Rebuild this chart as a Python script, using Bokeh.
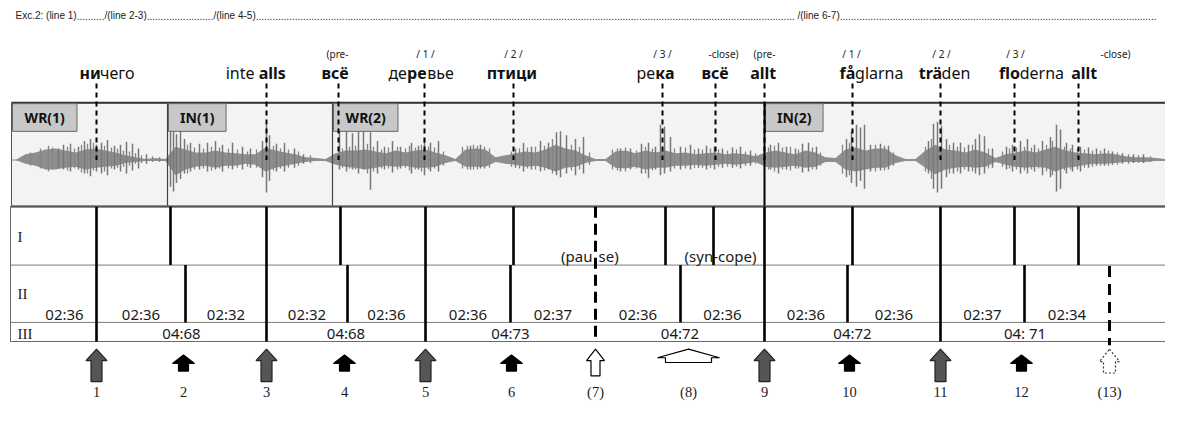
from bokeh.plotting import figure
from bokeh.models import ColumnDataSource, Range1d
from bokeh.core.properties import value
from bokeh.embed import file_html
from bokeh.resources import INLINE

SANS = "Noto Sans"
SERIF = "Liberation Serif"
TITLE_FONT = "Liberation Sans"

# ---------------- data ----------------
title_parts = ["Exc.2: (line 1)", "/(line 2-3)", "/(line 4-5)", "/(line 6-7)"]
title_x = [15, 104, 213, 797]
title_end = 1158

wave_seg_start = [11, 167, 332, 764]
wave_seg_label = ["WR(1)", "IN(1)", "WR(2)", "IN(2)"]

# waveform envelope (time position, amplitude above / below the centre line)
wave_x = [15, 25, 35, 45, 55, 65, 75, 85, 95, 105, 115, 125, 135, 145, 155, 165,
          175, 185, 195, 205, 215, 225, 235, 245, 255, 265, 275, 285, 295, 305, 315, 325,
          335, 345, 355, 365, 375, 385, 395, 405, 415, 425, 435, 445, 455, 465, 475, 485,
          495, 505, 515, 525, 535, 545, 555, 565, 575, 585, 595, 605, 615, 625, 635, 645,
          655, 665, 675, 685, 695, 705, 715, 725, 735, 745, 755,
          765, 775, 785, 795, 805, 815, 825, 835, 845, 855, 865, 875, 885, 895, 905, 915,
          925, 935, 945, 955, 965, 975, 985, 995, 1005, 1015, 1025, 1035, 1045, 1055, 1065,
          1075, 1085, 1095, 1105, 1115, 1125, 1135, 1145, 1155, 1165]
wave_up = [0, 6, 8, 11, 12, 10, 8, 11, 12, 10, 8, 5, 3, 1, 2, 1,
           14, 11, 8, 8, 10, 8, 7, 6, 6, 13, 10, 8, 6, 3, 2, 1,
           7, 10, 10, 11, 9, 7, 10, 8, 10, 11, 8, 5, 1, 11, 12, 11,
           3, 5, 7, 9, 8, 11, 16, 12, 10, 5, 1, 1, 9, 10, 7, 10,
           8, 10, 7, 8, 6, 7, 8, 6, 7, 6, 4,
           8, 10, 8, 6, 10, 8, 3, 2, 11, 13, 10, 12, 12, 5, 1, 1,
           10, 16, 11, 10, 8, 11, 8, 2, 6, 8, 10, 8, 11, 14, 10,
           8, 7, 6, 7, 6, 4, 3, 3, 2, 1]
wave_down = [0, 4, 6, 10, 10, 8, 7, 10, 8, 7, 6, 3, 2, 1, 1, 1,
             16, 10, 7, 6, 8, 6, 6, 4, 5, 12, 8, 6, 4, 2, 1, 1,
             5, 7, 8, 10, 8, 6, 7, 6, 8, 8, 7, 3, 1, 7, 7, 7,
             2, 4, 5, 7, 6, 8, 12, 8, 7, 3, 1, 1, 8, 9, 7, 10,
             8, 8, 6, 6, 5, 6, 5, 4, 5, 4, 2,
             7, 8, 7, 6, 8, 7, 2, 2, 10, 12, 10, 8, 8, 3, 1, 1,
             8, 15, 10, 8, 7, 8, 7, 2, 5, 7, 8, 7, 8, 12, 8,
             7, 5, 4, 4, 3, 2, 2, 2, 1, 1]

spike_x = [58, 63, 70, 78, 84, 90, 96, 101, 107, 114, 120, 126, 132, 138, 146,
           170, 173, 176, 180, 184, 190, 199, 207, 215, 222, 232, 242, 250, 262, 266, 269, 276, 284, 294, 303,
           339, 346, 352, 358, 363, 370, 377, 384, 392, 400, 411, 418, 424, 430, 438, 470, 480,
           515, 523, 531, 540, 548, 556, 560, 566, 575, 583,
           620, 630, 641, 648, 655, 660, 664, 670, 680, 690, 698, 706, 714, 722, 732, 740, 750,
           770, 778, 786, 795, 802, 808, 816, 846, 851, 856, 860, 864, 870, 880, 888,
           928, 933, 937, 941, 946, 953, 960, 968, 975, 979, 984, 992,
           1006, 1012, 1020, 1027, 1034, 1042, 1050, 1056, 1060, 1066, 1072, 1080, 1088, 1096,
           1104, 1112, 1122, 1133, 1143]
spike_up = [12, 16, 17, 14, 20, 22, 16, 18, 21, 15, 16, 19, 17, 12, 6,
            30, 32, 27, 31, 22, 18, 17, 18, 20, 16, 18, 14, 12, 20, 37, 26, 17, 18, 12, 6,
            30, 30, 28, 30, 30, 29, 20, 14, 20, 14, 18, 15, 22, 18, 20, 15, 16,
            12, 18, 14, 20, 18, 29, 30, 26, 22, 24,
            12, 12, 17, 18, 14, 37, 35, 24, 14, 16, 12, 15, 14, 12, 13, 14, 10,
            16, 18, 14, 12, 17, 18, 14, 22, 30, 37, 34, 37, 16, 17, 15,
            20, 38, 40, 36, 22, 18, 18, 16, 22, 27, 25, 12,
            14, 16, 20, 22, 16, 20, 24, 37, 32, 18, 16, 14, 13, 12,
            12, 9, 7, 6, 6]
spike_down = [8, 10, 12, 10, 14, 17, 12, 14, 16, 10, 12, 14, 11, 9, 4,
              28, 33, 24, 20, 14, 12, 10, 12, 10, 12, 10, 10, 8, 18, 34, 22, 12, 12, 8, 4,
              10, 12, 10, 14, 10, 31, 14, 10, 13, 9, 14, 10, 16, 12, 12, 10, 9,
              8, 12, 10, 12, 10, 16, 18, 14, 16, 14,
              12, 10, 14, 19, 10, 16, 14, 12, 10, 10, 8, 10, 10, 8, 8, 9, 6,
              10, 14, 10, 9, 13, 12, 10, 18, 24, 28, 22, 30, 12, 11, 10,
              14, 30, 34, 30, 18, 14, 14, 12, 14, 16, 14, 8,
              10, 12, 14, 14, 12, 16, 18, 33, 30, 14, 12, 12, 8, 6,
              6, 5, 4, 3, 3]

# finer, lower peaks of the waveform
fine_x = [30, 40, 48, 52, 67, 74, 81, 87, 93, 104, 111, 117, 123, 129, 135, 141, 152, 159,
          187, 194, 203, 211, 219, 228, 237, 247, 256, 273, 280, 288, 298, 310,
          342, 349, 355, 367, 373, 381, 388, 397, 405, 409, 415, 421, 428, 434, 443, 462, 467,
          473, 477, 484, 489, 511, 519, 527, 535, 544, 552, 571, 579, 589, 612, 617, 625, 636,
          645, 652, 674, 685, 694, 702, 710, 718, 727, 736, 745, 755,
          768, 774, 782, 790, 798, 812, 820, 842, 849, 875, 884, 893, 925, 931, 949, 957, 964,
          972, 988, 1002, 1009, 1016, 1024, 1031, 1038, 1046, 1052, 1064, 1070, 1077, 1084,
          1092, 1100, 1108, 1117, 1128, 1138, 1150]
fine_up = [8, 12, 15, 13, 14, 12, 16, 17, 18, 15, 13, 12, 10, 9, 7, 5, 4, 3,
           16, 13, 12, 14, 13, 12, 11, 9, 11, 15, 12, 11, 9, 5,
           12, 14, 15, 17, 14, 11, 13, 14, 12, 15, 13, 16, 14, 13, 9, 14, 15,
           16, 15, 14, 12, 9, 12, 13, 14, 15, 22, 16, 14, 8, 11, 12, 13, 10,
           14, 12, 12, 13, 11, 11, 12, 11, 10, 11, 9, 7,
           13, 15, 13, 14, 11, 13, 8, 16, 18, 16, 15, 8, 14, 22, 16, 14, 13,
           16, 12, 9, 12, 13, 14, 13, 12, 16, 20, 14, 12, 12, 11,
           10, 10, 10, 8, 6, 5, 4]
fine_down = [6, 9, 12, 10, 11, 9, 13, 14, 11, 12, 9, 8, 7, 6, 4, 3, 2, 2,
             14, 10, 9, 11, 9, 9, 8, 7, 8, 11, 9, 8, 6, 3,
             8, 9, 10, 14, 12, 9, 9, 10, 8, 11, 10, 12, 10, 9, 6, 9, 10,
             10, 10, 9, 8, 7, 9, 9, 10, 11, 14, 11, 10, 5, 10, 11, 12, 9,
             14, 11, 9, 9, 8, 8, 8, 7, 7, 7, 6, 4,
             10, 12, 10, 11, 9, 10, 6, 14, 16, 12, 11, 6, 12, 20, 14, 12, 10,
             12, 9, 7, 9, 10, 11, 10, 9, 12, 16, 11, 10, 10, 8,
             7, 6, 6, 5, 4, 3, 2]

# words above the waveform: parts as (text, stressed)
word_parts = [
    [("ни", True), ("чего", False)],
    [("inte", False), (" ", False), ("alls", True)],
    [("всё", True)],
    [("де", False), ("ре", True), ("вье", False)],
    [("птици", True)],
    [("ре", False), ("ка", True)],
    [("всё", True)],
    [("allt", True)],
    [("få", True), ("glarna", False)],
    [("trä", True), ("den", False)],
    [("flo", True), ("derna", False)],
    [("allt", True)],
]
word_center = [107, 255, 335, 421, 512, 655, 715, 762, 871, 944, 1031, 1083]
word_beat = [96, 266, 338, 424, 513, 662, 715, 764, 852, 940, 1014, 1078]

small_labels = ["(pre-", "/ 1 /", "/ 2 /", "/ 3 /", "-close)", "(pre-", "/ 1 /", "/ 2 /", "/ 3 /", "-close)"]
small_x = [337, 425, 513, 662, 723, 764, 851, 941, 1015, 1115]

# table of metrical levels
full_bars = [96, 266, 425, 764, 940]
row1_beats = [170, 340, 513, 665, 713, 852, 1014, 1078]
row2_beats = [185, 347, 510, 680, 847, 1024]
pause_beat = 595
silent_beat = 1109
pickup_start = 32

row_names = ["I", "II", "III"]
pause_note = ["(pau", "se)"]
syncope_note = "(syn-cope)"
syncope_note_x = 720
row2_values = ["02:36", "02:36", "02:32", "02:32", "02:36", "02:36", "02:37",
               "02:36", "02:36", "02:36", "02:36", "02:37", "02:34"]
row3_values = ["04:68", "04:68", "04:73", "04:72", "04:72", "04: 71"]

beat_x = [96, 183, 266, 344, 425, 511, 595, 688, 764, 849, 940, 1021, 1109]
beat_labels = ["1", "2", "3", "4", "5", "6", "(7)", "(8)", "9", "10", "11", "12", "(13)"]
beat_kind = ["strong", "weak", "strong", "weak", "strong", "weak", "pause",
             "syncope", "strong", "weak", "strong", "weak", "silent"]

# ---------------- helpers ----------------
EM = {"a": .561, "b": .615, "c": .48, "d": .615, "e": .564, "f": .344, "g": .615,
      "h": .618, "i": .258, "l": .258, "n": .618, "o": .605, "r": .413, "s": .479,
      "t": .361, "å": .561, "ä": .561, " ": .26,
      "а": .561, "в": .589, "г": .462, "д": .603, "е": .564, "и": .637, "к": .557,
      "о": .605, "п": .633, "р": .615, "т": .473, "ц": .637, "ч": .593, "ь": .557,
      "ё": .564, "с": .48, "W": .9, "R": .63, "I": .33, "N": .74, "(": .3, ")": .3,
      "1": .57, "2": .57}
ARIAL = {"E": .667, "x": .5, "c": .5, ".": .278, ":": .278, " ": .278, "(": .333,
         ")": .333, "l": .222, "i": .222, "n": .556, "e": .556, "/": .278, "-": .333}


def tw(s, size, bold=False):
    return sum(EM.get(ch, .56) for ch in s) * size * (1.07 if bold else 1.0)


def tw_arial(s, size):
    return sum(ARIAL.get(ch, .556) for ch in s) * size


p = figure(width=1165, height=405, x_range=Range1d(0, 1165), y_range=Range1d(424, 0),
           output_backend="svg", toolbar_location=None, min_border=0,
           x_axis_location=None, y_axis_location=None)
p.grid.visible = False
p.outline_line_color = None
p.background_fill_color = "white"
p.border_fill_color = "white"


def txt(xs, ys, texts, size, font=SANS, bold=False, align="center", color="#1a1a1a"):
    src = ColumnDataSource(dict(x=xs, y=ys, text=texts))
    p.text("x", "y", "text", source=src, text_font=value(font), text_font_size=f"{size}px",
           text_font_style="bold" if bold else "normal", text_align=align,
           text_baseline="middle", text_color=color)


# ---- title ----
dot_w = tw_arial(".", 10)
tx, tt = [], []
ends = title_x[1:] + [title_end]
for s, x0, x1 in zip(title_parts, title_x, ends):
    tx.append(x0)
    tt.append(s)
    dstart = x0 + tw_arial(s, 10)
    n = int((x1 - dstart) / dot_w)
    tx.append(dstart)
    tt.append("." * n)
txt(tx, [16] * len(tx), tt, 10, font=TITLE_FONT, align="left", color="#222222")

# ---- waveform area ----
WT, WB, WC = 107, 215, 167
right = 1190
p.quad(left=[wave_seg_start[0]], right=[right], top=[WT], bottom=[WB],
       fill_color="#f3f3f3", line_color="#555555", line_width=1)
p.line([wave_seg_start[0], right], [WC, WC], line_color="#8a8a8a", line_width=1)
p.varea(x=wave_x, y1=[WC - u for u in wave_up], y2=[WC + d for d in wave_down],
        fill_color="#8e8e8e")
p.segment(x0=fine_x, y0=[WC - u for u in fine_up], x1=fine_x,
          y1=[WC + d for d in fine_down], line_color="#858585", line_width=1.3)
p.segment(x0=spike_x, y0=[WC - u for u in spike_up], x1=spike_x,
          y1=[WC + d for d in spike_down], line_color="#777777", line_width=1.5)
p.line([wave_seg_start[0], right], [WT, WT], line_color="#333333", line_width=2)
p.segment(x0=wave_seg_start[1:3], y0=[WT] * 2, x1=wave_seg_start[1:3], y1=[WB] * 2,
          line_color="#444444", line_width=1.2)

# segment label boxes
bl, br, bx = [], [], []
for s, lab in zip(wave_seg_start, wave_seg_label):
    w = tw(lab, 14, True) + 24
    bl.append(s + 1)
    br.append(s + 1 + w)
    bx.append(s + 1 + w / 2)
p.quad(left=bl, right=br, top=[WT + 1] * 4, bottom=[WT + 30] * 4,
       fill_color="#c8c8c8", line_color="#6a6a6a", line_width=1)
txt(bx, [WT + 16] * 4, wave_seg_label, 14, bold=True, color="#111111")

# ---- words above ----
bold_x, bold_t, reg_x, reg_t = [], [], [], []
for parts, c in zip(word_parts, word_center):
    total = sum(tw(t, 16, b) for t, b in parts)
    x = c - total / 2
    for t, b in parts:
        if t.strip():
            (bold_x if b else reg_x).append(x)
            (bold_t if b else reg_t).append(t)
        x += tw(t, 16, b)
txt(bold_x, [76] * len(bold_x), bold_t, 16, bold=True, align="left", color="#111111")
txt(reg_x, [76] * len(reg_x), reg_t, 16, align="left", color="#111111")
txt(small_x, [56] * len(small_x), small_labels, 10, color="#222222")

# ---- table ----
TT, R1, R2, TB = 216, 277, 337, 357
TL = 10
p.quad(left=[TL], right=[right], top=[TT], bottom=[TB], fill_color="white",
       line_color="#6a6a6a", line_width=1)
p.segment(x0=[TL, TL], y0=[R1, R2], x1=[right, right], y1=[R1, R2],
          line_color="#7a7a7a", line_width=1)
p.line([TL, right], [TT, TT], line_color="#555555", line_width=1.5)

# vertical beat lines
p.segment(x0=full_bars, y0=[TT] * len(full_bars), x1=full_bars, y1=[TB] * len(full_bars),
          line_color="black", line_width=2.6)
p.segment(x0=[764], y0=[WT], x1=[764], y1=[WB], line_color="black", line_width=2)
p.segment(x0=row1_beats, y0=[TT] * len(row1_beats), x1=row1_beats, y1=[R1] * len(row1_beats),
          line_color="black", line_width=2.6)
p.segment(x0=row2_beats, y0=[R1] * len(row2_beats), x1=row2_beats, y1=[R2] * len(row2_beats),
          line_color="black", line_width=2.6)
p.segment(x0=[pause_beat], y0=[TT], x1=[pause_beat], y1=[TB], line_color="black",
          line_width=3, line_dash="11 6")
p.segment(x0=[silent_beat], y0=[R1 + 1], x1=[silent_beat], y1=[TB + 4], line_color="black",
          line_width=3, line_dash="11 7")

# dashed word markers from the words down into the waveform
p.segment(x0=word_beat, y0=[87] * len(word_beat), x1=word_beat, y1=[WC] * len(word_beat),
          line_color="black", line_width=2, line_dash="5 4")

# row texts
txt([17, 17, 17], [248, 307, 349], row_names, 15, font=SERIF, align="left", color="#222222")
txt([pause_beat - 3], [268], pause_note[:1], 15, align="right")
txt([pause_beat + 3], [268], pause_note[1:], 15, align="left")
txt([syncope_note_x], [268], [syncope_note], 15)
b2 = [pickup_start] + sorted(full_bars + row2_beats + [pause_beat, silent_beat])
mid2 = [(a + b) / 2 for a, b in zip(b2[:-1], b2[1:])]
txt(mid2, [328] * len(mid2), row2_values, 15)
b3 = sorted(full_bars + [pause_beat, silent_beat])
mid3 = [(a + b) / 2 for a, b in zip(b3[:-1], b3[1:])]
txt(mid3, [348] * len(mid3), row3_values, 15)


# ---- arrows ----
def arrow(kind, x):
    if kind == "strong":
        t, hb, hw, sw, bot = 365, 377, 10.5, 5.5, 399
    elif kind == "weak":
        t, hb, hw, sw, bot = 371, 380, 11, 5, 388
    elif kind == "pause":
        t, hb, hw, sw, bot = 365, 377, 9, 4.5, 393
    elif kind == "syncope":
        t, hb, hw, sw, bot = 365, 374, 31, 23, 379
    else:
        t, hb, hw, sw, bot = 365, 378, 10, 6, 390
    xs = [x, x + hw, x + sw, x + sw, x - sw, x - sw, x - hw]
    ys = [t, hb, hb, bot, bot, hb, hb]
    return xs, ys


styles = {"strong": ("#555555", "#222222", "solid"), "weak": ("black", "black", "solid"),
          "pause": ("white", "black", "solid"), "syncope": ("white", "black", "solid"),
          "silent": ("white", "#333333", "2 2")}
for kind, (fc, lc, dash) in styles.items():
    xs, ys = [], []
    for k, x in zip(beat_kind, beat_x):
        if k == kind:
            a, b = arrow(k, x)
            xs.append(a)
            ys.append(b)
    if xs:
        p.patches(xs, ys, fill_color=fc, line_color=lc, line_width=1.2, line_dash=dash)

txt(beat_x, [410] * len(beat_x), beat_labels, 14.5, font=SERIF)

open("out.html", "w").write(file_html(p, INLINE))
